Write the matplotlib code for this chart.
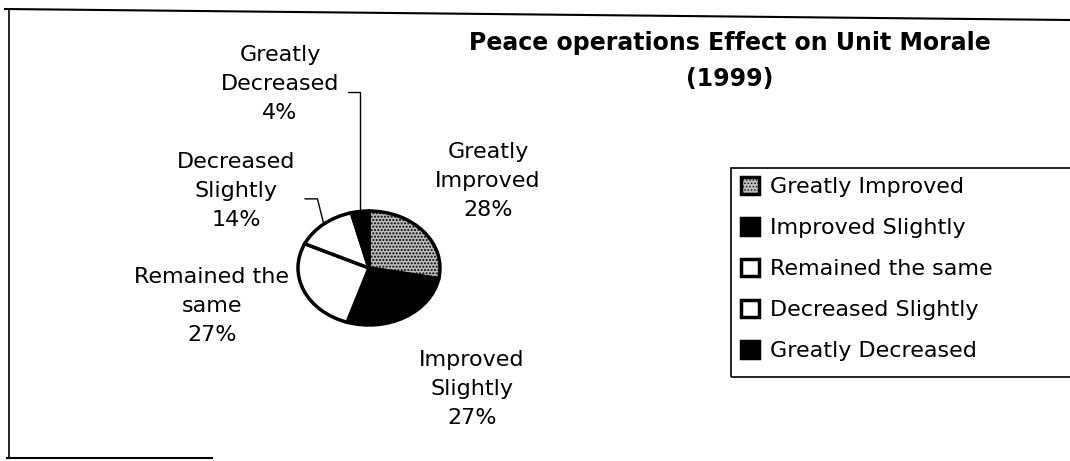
import numpy as np
import matplotlib
matplotlib.use('Agg')
import matplotlib.pyplot as plt
from matplotlib.lines import Line2D
from matplotlib.patches import Rectangle

# data
categories = ['Greatly Improved', 'Improved Slightly', 'Remained the same',
              'Decreased Slightly', 'Greatly Decreased']
percents = [28, 27, 27, 14, 4]
wrapped = ['Greatly\nImproved', 'Improved\nSlightly', 'Remained the\nsame',
           'Decreased\nSlightly', 'Greatly\nDecreased']
slice_colors = ['#bdbdbd', 'black', 'white', 'white', 'black']
title = 'Peace operations Effect on Unit Morale\n(1999)'

W, H = 1070, 461
fig = plt.figure(figsize=(W / 100, H / 100), dpi=100)
fig.patch.set_facecolor('white')

def fx(px):
    return px / W

def fy(py):
    return 1 - py / H

# pie drawn as a flattened ellipse
cx, cy, rx, ry = 369, 268, 71, 57
ax = fig.add_axes([fx(cx - rx), fy(cy + ry), 2 * rx / W, 2 * ry / H])
wedges, _ = ax.pie(percents, colors=slice_colors, startangle=90, counterclock=False,
                   wedgeprops=dict(edgecolor='black', linewidth=2.5))
ax.set_aspect('auto')
ax.set_xlim(-1, 1)
ax.set_ylim(-1, 1)
ax.axis('off')
plt.rcParams['hatch.linewidth'] = 0.6
wedges[0].set_hatch('.....')
for w in wedges:
    w.set_clip_on(False)

def mid_point(w):
    a = np.deg2rad((w.theta1 + w.theta2) / 2)
    return np.cos(a), np.sin(a)

lab_fs = 16
lab_kw = dict(fontsize=lab_fs, ha='center', va='center', linespacing=1.58)

def lab(i):
    return f"{wrapped[i]}\n{percents[i]}%"

# labels without leaders
fig.text(fx(488), fy(181), lab(0), **lab_kw)
fig.text(fx(472), fy(389), lab(1), **lab_kw)
fig.text(fx(212), fy(306), lab(2), **lab_kw)

# labels with leader lines
ax.annotate(lab(4), xy=mid_point(wedges[4]), xycoords='data',
            xytext=(280, H - 84), textcoords='figure pixels',
            arrowprops=dict(arrowstyle='-', color='black', lw=1,
                            connectionstyle='angle,angleA=0,angleB=90,rad=0',
                            relpos=(1, 0.4), shrinkA=4, shrinkB=0),
            **lab_kw)
ax.annotate(lab(3), xy=mid_point(wedges[3]), xycoords='data',
            xytext=(236, H - 191), textcoords='figure pixels',
            arrowprops=dict(arrowstyle='-', color='black', lw=1,
                            connectionstyle='angle,angleA=0,angleB=104,rad=0',
                            relpos=(1, 0.4), shrinkA=5, shrinkB=0),
            **lab_kw)

# title
fig.text(fx(730), fy(61), title, fontsize=17, fontweight='bold',
         ha='center', va='center', linespacing=1.6)

# legend
fig.legend(wedges, categories, loc='center left',
           bbox_to_anchor=(fx(741), fy(269)), frameon=False, fontsize=lab_fs,
           borderpad=0, borderaxespad=0, handlelength=0.8, handleheight=0.8,
           handletextpad=0.5, labelspacing=0.93)
fig.patches.append(Rectangle((fx(731), fy(377)), fx(1080 - 731), (377 - 168) / H,
                             transform=fig.transFigure, fill=False,
                             edgecolor='black', linewidth=1.2, clip_on=False))

# chart frame (partly cut off in the scan)
fig.lines.append(Line2D([fx(5), fx(1070)], [fy(9), fy(20)], transform=fig.transFigure,
                        color='black', lw=1.5))
fig.lines.append(Line2D([fx(9), fx(9)], [fy(9), fy(458)], transform=fig.transFigure,
                        color='black', lw=1.2))
fig.lines.append(Line2D([fx(7), fx(212)], [fy(458), fy(458)], transform=fig.transFigure,
                        color='black', lw=1.5))

fig.savefig('out.png', dpi=100)
